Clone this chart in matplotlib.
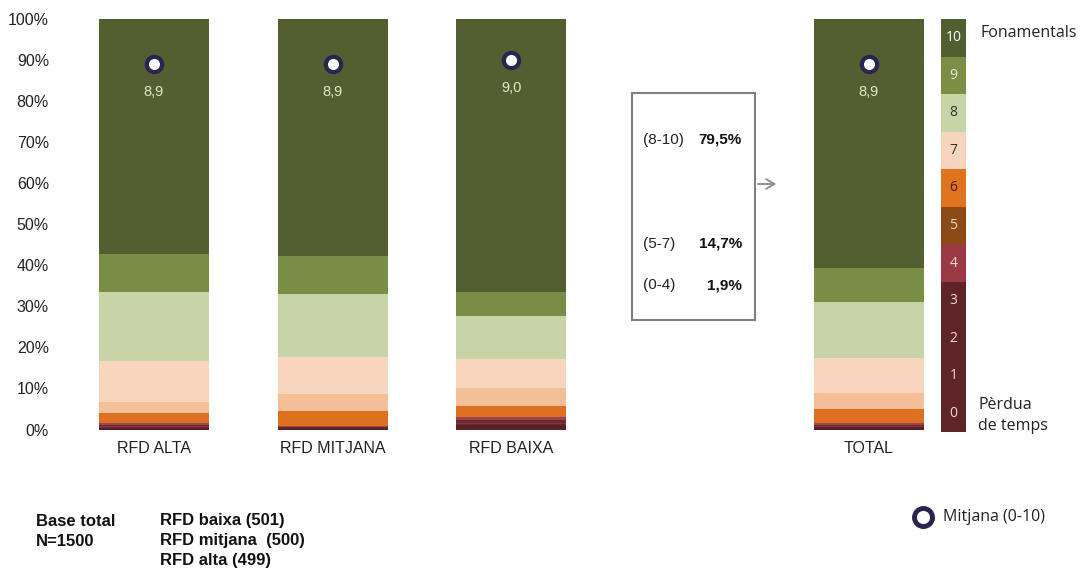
import matplotlib.pyplot as plt
import numpy as np

# share of answers per score (0..10), in %
scores = list(range(11))
groups = ['RFD ALTA', 'RFD MITJANA', 'RFD BAIXA', 'TOTAL']
group_x = [0, 1, 2, 4]
pct_alta = [0.4, 0.2, 0.2, 0.2, 0.6, 2.5, 2.6, 10.1, 16.7, 9.3, 57.2]
pct_mitjana = [0.4, 0.1, 0.1, 0.1, 0.2, 3.7, 4.1, 9.0, 15.3, 9.3, 57.7]
pct_baixa = [1.0, 0.4, 0.3, 0.5, 0.8, 2.7, 4.5, 6.9, 10.5, 5.8, 66.6]
pct_total = [0.5, 0.2, 0.2, 0.3, 0.5, 3.2, 4.1, 8.3, 13.8, 8.2, 60.7]
means = [8.9, 8.9, 9.0, 8.9]
mean_labels = ['8,9', '8,9', '9,0', '8,9']

box_labels = ['(8-10)', '(5-7)', '(0-4)']
box_values = ['79,5%', '14,7%', '1,9%']

bar_colors = ['#5A2026', '#6B2A30', '#86373F', '#6B2A30', '#9B4452',
              '#DE7021', '#F3BF98', '#F8D6BD', '#C8D4A7', '#7A8D45', '#535F30']
legend_colors = ['#5E2428', '#5E2428', '#5E2428', '#5E2428', '#9B3A45',
                 '#8B4A16', '#DF731E', '#F7D5BC', '#C7D4A6', '#7A8F45', '#4F5F2F']
legend_text_colors = ['#F0D8D8'] * 5 + ['#F0D8C8', '#4A1E10', '#333333', '#333333', '#E8EED0', '#FFFFFF']

W, H = 1080, 575
fig = plt.figure(figsize=(W / 100, H / 100), dpi=100)

# main axes: x=0 at 154px, unit 178.7px; y 0% at 429.5px, 100% at 19px
unit = 178.7
ax = fig.add_axes([60 / W, (H - 429.5) / H, 870 / W, 410.5 / H])
ax.set_xlim((60 - 154) / unit, (930 - 154) / unit)
ax.set_ylim(0, 100)

data = np.array([pct_alta, pct_mitjana, pct_baixa, pct_total])
bottom = np.zeros(len(groups))
for s in scores:
    ax.bar(group_x, data[:, s], 0.615, bottom=bottom, color=bar_colors[s], linewidth=0)
    bottom += data[:, s]

ax.plot(group_x, np.array(means) * 10, 'o', ms=11, mfc='white', mec='#2B2350', mew=3)
for x, m, lab in zip(group_x, means, mean_labels):
    ax.annotate(lab, (x, m * 10), xytext=(0, -20), textcoords='offset points',
                ha='center', va='center', fontsize=10.5, color='#E3E8C5',
                family='Liberation Sans')

ax.set_yticks(np.arange(0, 101, 10))
ax.set_yticklabels([f'{v}%' for v in range(0, 101, 10)], family='Liberation Sans',
                   fontsize=11.5, color='#222222')
ax.set_xticks(group_x)
ax.set_xticklabels(groups, family='Liberation Sans', fontsize=11.5, color='#222222')
ax.tick_params(length=0, pad=8)
for sp in ax.spines.values():
    sp.set_visible(False)

# summary box with arrow
x0, x1 = (632 - 154) / unit, (755 - 154) / unit
y_top, y_bot = (429.5 - 93) / 4.105, (429.5 - 320) / 4.105
ax.add_patch(plt.Rectangle((x0, y_bot), x1 - x0, y_top - y_bot, fill=False,
                           edgecolor='#7F7F7F', lw=1.5, clip_on=False))
ya = (429.5 - 184) / 4.105
ax.annotate('', xy=((779 - 154) / unit, ya), xytext=(x1, ya),
            arrowprops=dict(arrowstyle='->,head_length=0.6,head_width=0.35',
                            color='#8A8A8A', lw=1.3))
for lab, val, py in zip(box_labels, box_values, [140, 244, 285]):
    fig.text(643 / W, 1 - py / H, lab, ha='left', va='center', fontsize=11,
             family='Liberation Sans', color='#222222')
    fig.text(742 / W, 1 - py / H, val, ha='right', va='center', fontsize=11,
             family='Liberation Sans', weight='bold', color='#111111')

# score scale legend
lax = fig.add_axes([941 / W, (H - 432) / H, 25 / W, 413 / H])
lax.set_xlim(0, 1)
lax.set_ylim(0, 11)
lax.bar([0.5] * 11, [1] * 11, 1, bottom=scores, color=legend_colors, linewidth=0)
for s in scores:
    lax.text(0.5, s + 0.5, str(s), ha='center', va='center', fontsize=10,
             family='Open Sans', color=legend_text_colors[s])
lax.axis('off')

fig.text(980 / W, 1 - 33 / H, 'Fonamentals', ha='left', va='center', fontsize=11.5,
         family='Open Sans', color='#222222')
fig.text(978 / W, 1 - 405 / H, 'Pèrdua', ha='left', va='center', fontsize=11.5,
         family='Open Sans', color='#222222')
fig.text(978 / W, 1 - 426 / H, 'de temps', ha='left', va='center', fontsize=11.5,
         family='Open Sans', color='#222222')

# mean legend
fig.lines.append(plt.Line2D([923 / W], [1 - 517 / H], transform=fig.transFigure,
                            marker='o', ms=13, mfc='white', mec='#2B2350', mew=3.5))
fig.text(943 / W, 1 - 517 / H, 'Mitjana (0-10)', ha='left', va='center', fontsize=11.5,
         family='Open Sans', color='#222222')

# base note
base_kw = dict(ha='left', va='center', fontsize=12, family='Liberation Sans',
               weight='bold', color='#111111')
fig.text(36 / W, 1 - 521 / H, 'Base total', **base_kw)
fig.text(36 / W, 1 - 541 / H, 'N=1500', **base_kw)
fig.text(160 / W, 1 - 521 / H, 'RFD baixa (501)', **base_kw)
fig.text(160 / W, 1 - 541 / H, 'RFD mitjana  (500)', **base_kw)
fig.text(160 / W, 1 - 561 / H, 'RFD alta (499)', **base_kw)

fig.savefig('out.png', dpi=100)
